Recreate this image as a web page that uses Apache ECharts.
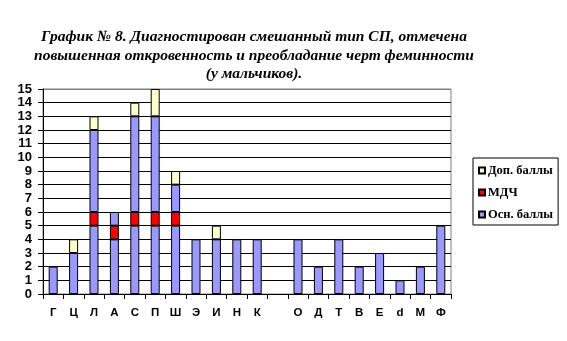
<!DOCTYPE html>
<html>
<head>
<meta charset="utf-8">
<script src="https://cdn.jsdelivr.net/npm/echarts@6/dist/echarts.min.js"></script>
<style>
  html, body { margin: 0; padding: 0; background: #fff; }
  #chart { width: 567px; height: 341px; }
</style>
</head>
<body>
<div id="chart"></div>
<script>
// Scale codes along the x axis (one empty slot separates the two groups)
const categories = ['Г','Ц','Л','А','С','П','Ш','Э','И','Н','К','','О','Д','Т','В','Е','d','М','Ф'];
// Stacked segments, bottom to top
const osnLower = [2, 3, 5, 4, 5, 5, 5, 4, 4, 4, 4, null, 4, 2, 4, 2, 3, 1, 2, 5];
const mdch     = [null, null, 1, 1, 1, 1, 1, null, null, null, null, null, null, null, null, null, null, null, null, null];
const osnUpper = [null, null, 6, 1, 7, 7, 2, null, null, null, null, null, null, null, null, null, null, null, null, null];
const dop      = [null, 1, 1, null, 1, 2, 1, null, 1, null, null, null, null, null, null, null, null, null, null, null];
const yTicks = [0, 15, 1];

const titleText = 'График № 8. Диагностирован смешанный тип СП, отмечена\nповышенная откровенность и преобладание черт феминности\n(у мальчиков).';

const BLUE = '#9999FF', RED = '#FF0000', YELLOW = '#FFFFCC';
const gridColors = [];
for (let v = yTicks[0]; v <= yTicks[1]; v += yTicks[2]) gridColors.push(v === yTicks[1] ? '#808080' : '#000000');

const barStyle = (c) => ({ color: c, borderColor: '#000', borderWidth: 1 });
const common = { type: 'bar', stack: 'total', barWidth: 9, animation: false };

const chart = echarts.init(document.getElementById('chart'), null, { renderer: 'canvas' });
chart.setOption({
  backgroundColor: '#ffffff',
  title: {
    text: titleText,
    left: 249, top: 23, textAlign: 'center',
    textStyle: {
      fontFamily: 'Liberation Serif', fontStyle: 'italic', fontWeight: 'bold',
      fontSize: 15.5, lineHeight: 18.5, color: '#000'
    }
  },
  legend: {
    orient: 'vertical',
    left: 473, top: 158,
    data: ['Доп. баллы', 'МДЧ', 'Осн. баллы'],
    icon: 'rect',
    itemWidth: 6, itemHeight: 6, itemGap: 9,
    padding: [6, 5, 4, 5],
    borderColor: '#000', borderWidth: 1,
    textStyle: { fontFamily: 'Liberation Serif', fontWeight: 'bold', fontSize: 12.5, lineHeight: 12, color: '#000', padding: [0, 0, 0, -2] }
  },
  grid: { left: 43, right: 116, top: 89, bottom: 47, show: true, borderColor: '#808080', borderWidth: 1 },
  xAxis: {
    type: 'category',
    data: categories,
    axisLine: { lineStyle: { color: '#000', width: 1 } },
    axisTick: { show: true, length: 5, lineStyle: { color: '#000' } },
    axisLabel: { fontFamily: 'Liberation Sans', fontWeight: 'bold', fontSize: 11.5, color: '#000', margin: 13, interval: 0 }
  },
  yAxis: {
    type: 'value',
    min: yTicks[0], max: yTicks[1], interval: yTicks[2],
    axisLine: { show: true, lineStyle: { color: '#000', width: 1 } },
    axisTick: { show: true, length: 5, lineStyle: { color: '#000' } },
    splitLine: { lineStyle: { color: gridColors, width: 1 } },
    axisLabel: { fontFamily: 'Liberation Sans', fontWeight: 'bold', fontSize: 13, color: '#000', margin: 11 }
  },
  series: [
    Object.assign({ name: 'Осн. баллы', data: osnLower, itemStyle: barStyle(BLUE) }, common),
    Object.assign({ name: 'МДЧ', data: mdch, itemStyle: barStyle(RED) }, common),
    Object.assign({ name: 'Осн. баллы (верх)', data: osnUpper, itemStyle: barStyle(BLUE) }, common),
    Object.assign({ name: 'Доп. баллы', data: dop, itemStyle: barStyle(YELLOW) }, common)
  ]
});
</script>
</body>
</html>
